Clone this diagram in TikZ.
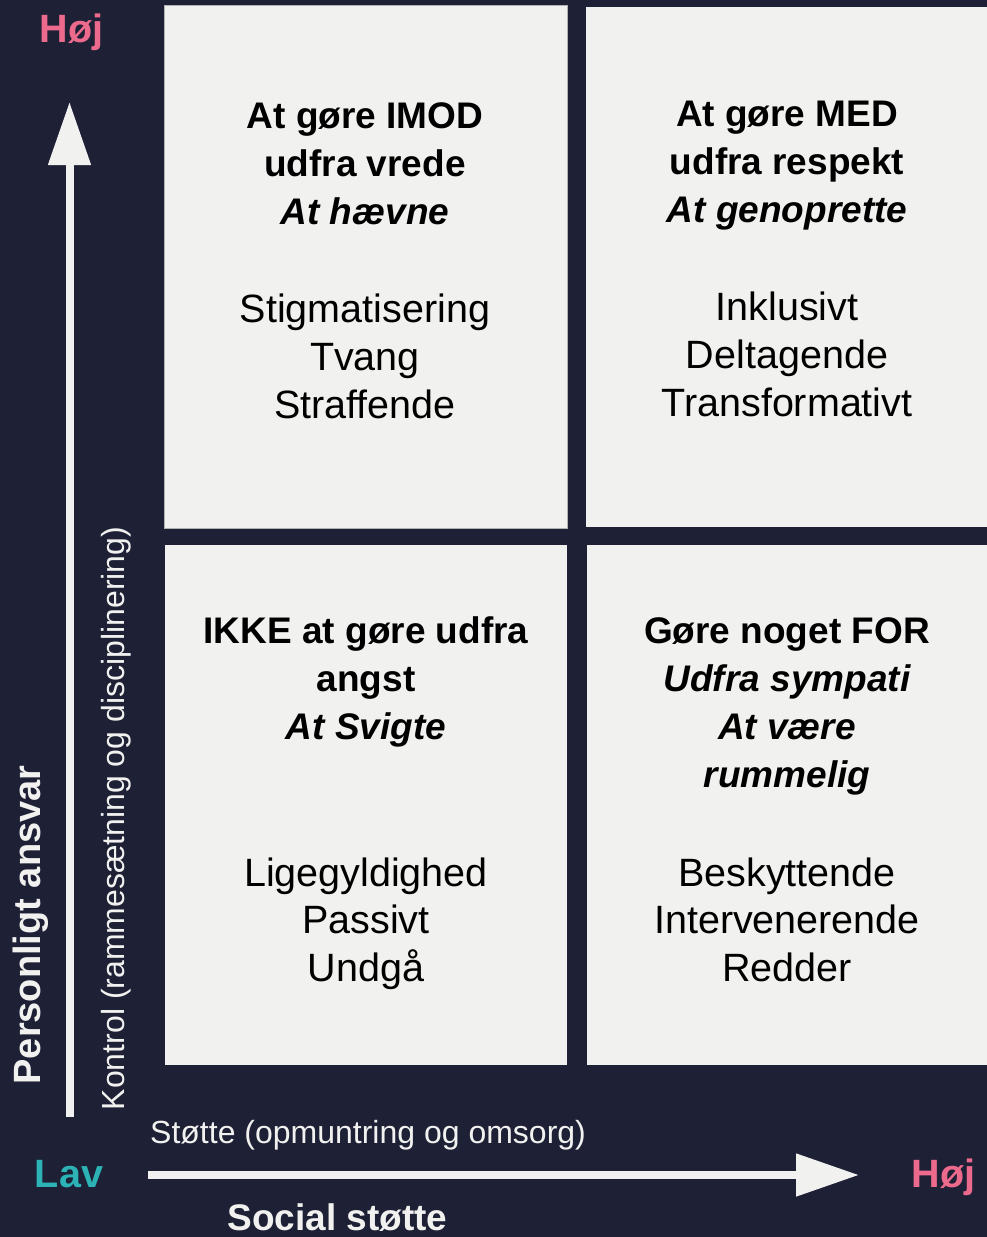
\documentclass[tikz,border=0pt]{standalone}
\usepackage{fontspec}
\setmainfont{Liberation Sans}
\usetikzlibrary{arrows.meta}
\definecolor{bgnavy}{HTML}{1E2036}
\definecolor{boxfill}{HTML}{F1F1EF}
\definecolor{hojpink}{HTML}{EC6A8C}
\definecolor{lavteal}{HTML}{2BB3B5}
\tikzset{
  quad/.style={fill=boxfill, draw=none},
  hd/.style={anchor=base, inner sep=0pt, text=black, font=\fontsize{37}{48}\selectfont\bfseries},
  hdi/.style={hd, font=\fontsize{37}{48}\selectfont\bfseries\itshape},
  bd/.style={anchor=base, inner sep=0pt, text=black, font=\fontsize{39.5}{48}\selectfont},
  axisarrow/.style={draw=boxfill, line width=8pt, -{Triangle[width=41pt,length=63pt]}},
  level/.style={anchor=base, inner sep=0pt, font=\fontsize{39.5}{40}\selectfont\bfseries},
  axislab/.style={anchor=base, inner sep=0pt, text=boxfill},
}
\begin{document}
\begin{tikzpicture}[x=1pt,y=-1pt]
\fill[bgnavy] (0,0) rectangle (987,1237);
\useasboundingbox (0,0) rectangle (987,1237);
% quadrants
\path[quad, draw=gray!60, line width=0.7pt] (164,5) rectangle (567,528);
\path[quad] (586,7) rectangle (987,527);
\path[quad] (165,545) rectangle (567,1065);
\path[quad] (587,545) rectangle (987,1065);
% top-left
\node[hd] (tla) at (365,128) {At gøre IMOD};
\node[hd] (tlb) at (365,176) {udfra vrede};
\node[hdi] (tlc) at (365,224) {At hævne};
\node[bd] (tld) at (365,322) {Stigmatisering};
\node[bd] (tle) at (365,370) {Tvang};
\node[bd] (tlf) at (365,418) {Straffende};
% top-right
\node[hd] (tra) at (787,126) {At gøre MED};
\node[hd] (trb) at (787,174) {udfra respekt};
\node[hdi] (trc) at (787,222) {At genoprette};
\node[bd] (trd) at (787,320) {Inklusivt};
\node[bd] (tre) at (787,368) {Deltagende};
\node[bd] (trf) at (787,416) {Transformativt};
% bottom-left
\node[hd] (bla) at (366,643) {IKKE at gøre udfra};
\node[hd] (blb) at (366,691) {angst};
\node[hdi] (blc) at (366,739) {At Svigte};
\node[bd] (bld) at (366,886) {Ligegyldighed};
\node[bd] (ble) at (366,933) {Passivt};
\node[bd] (blf) at (366,981) {Undgå};
% bottom-right
\node[hd] (bra) at (787,643) {Gøre noget FOR};
\node[hdi] (brb) at (787,691) {Udfra sympati};
\node[hdi] (brc) at (787,739) {At være};
\node[hdi] (brd) at (787,787) {rummelig};
\node[bd] (bre) at (787,886) {Beskyttende};
\node[bd] (brf) at (787,933) {Intervenerende};
\node[bd] (brg) at (787,981) {Redder};
% axes
\coordinate (vstart) at (69.5,1117);
\coordinate (vend) at (69.5,102);
\coordinate (hstart) at (148,1175);
\coordinate (hend) at (859,1175);
\draw[axisarrow] (vstart) -- (vend);
\draw[axisarrow] (hstart) -- (hend);
% level labels
\node[level, text=hojpink] (hojtop) at (71.5,42) {Høj};
\node[level, text=lavteal] (lav) at (69,1187) {Lav};
\node[level, text=hojpink] (hojright) at (943.5,1187) {Høj};
% axis labels
\node[axislab, rotate=90, font=\fontsize{38}{40}\selectfont\bfseries] (pers) at (40,925) {Personligt ansvar};
\node[axislab, rotate=90, font=\fontsize{32}{36}\selectfont] (kontrol) at (124,818.5) {Kontrol (rammesætning og disciplinering)};
\node[axislab, anchor=base west, font=\fontsize{32}{36}\selectfont] (stotte) at (150,1143) {Støtte (opmuntring og omsorg)};
\node[axislab, font=\fontsize{37}{40}\selectfont\bfseries] (social) at (337.5,1230) {Social støtte};
\end{tikzpicture}
\end{document}
